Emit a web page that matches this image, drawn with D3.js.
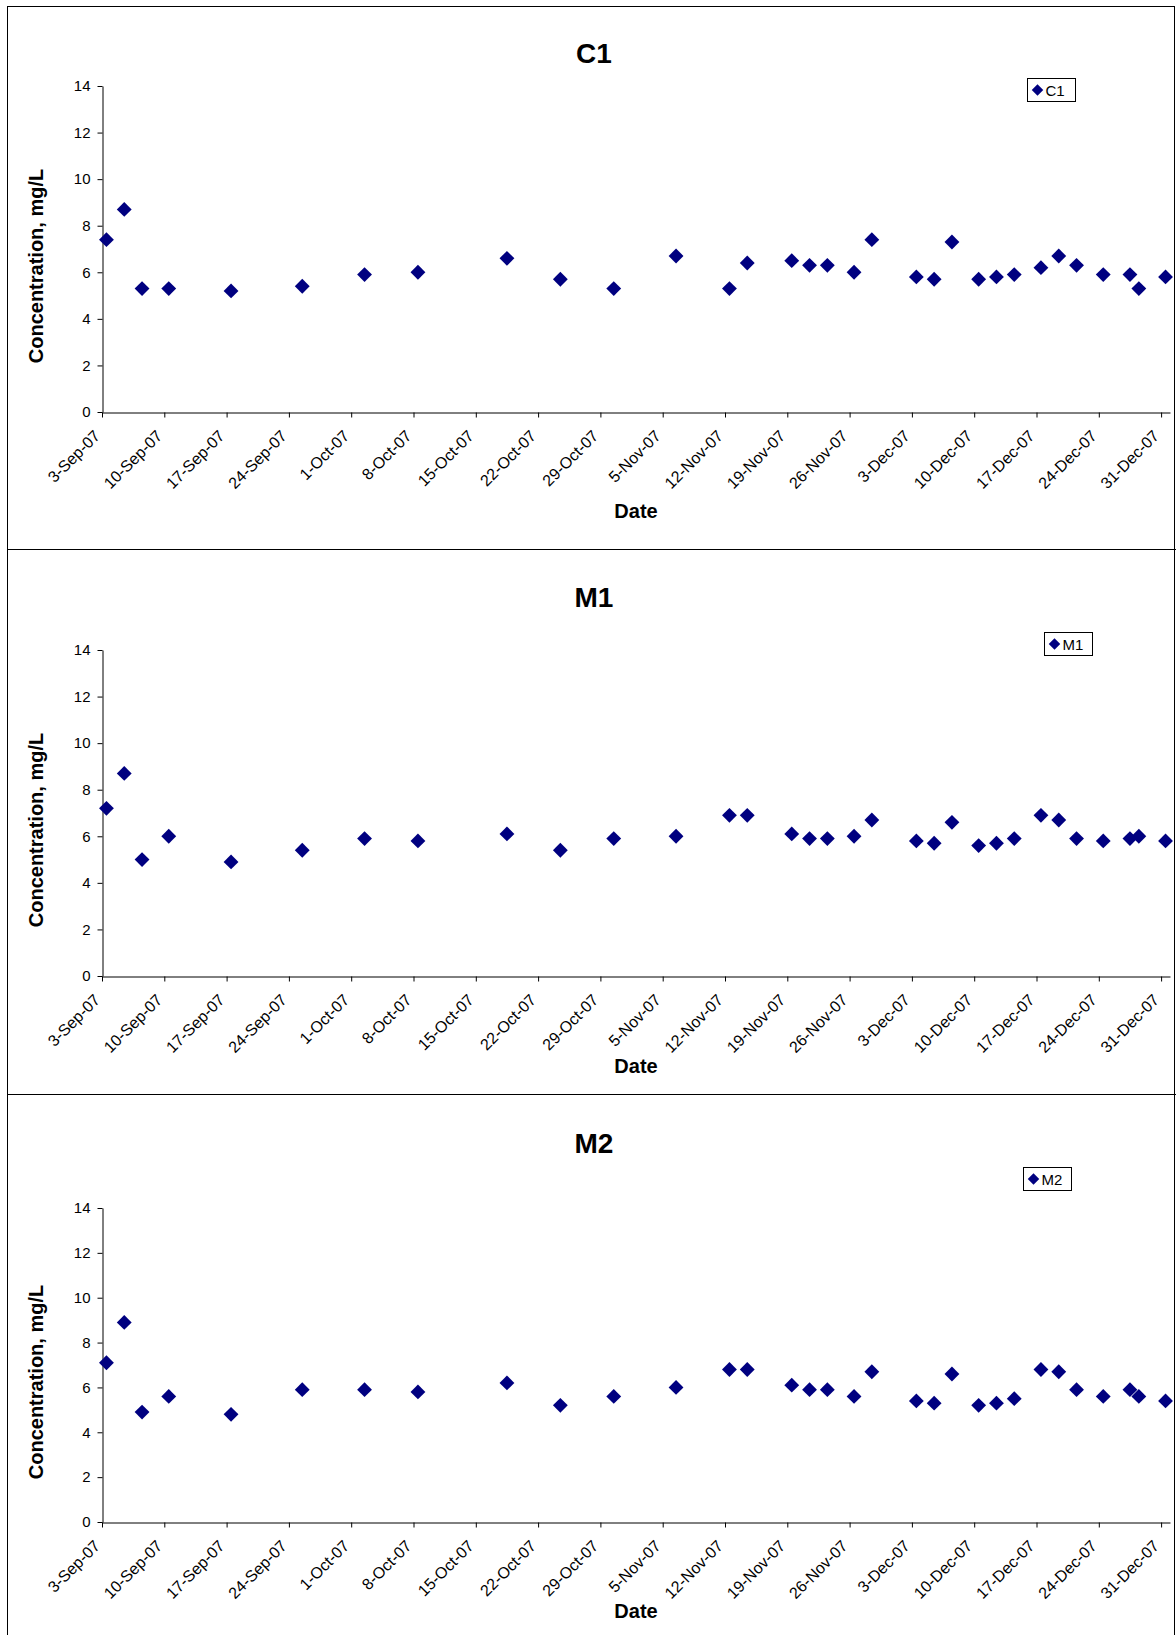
<!DOCTYPE html>
<html>
<head>
<meta charset="utf-8">
<script src="https://cdn.jsdelivr.net/npm/d3@7"></script>
<style>
  body { margin: 0; background: #fff; }
  svg { display: block; font-family: Arial, "Liberation Sans", sans-serif; }
</style>
</head>
<body>
<svg id="chart" width="1176" height="1635"></svg>
<script>
// Sampling dates, shared by the three stations (samples plotted at midday)
const sampleDates = [
  '3-Sep-07', '5-Sep-07', '7-Sep-07', '10-Sep-07', '17-Sep-07', '25-Sep-07',
  '2-Oct-07', '8-Oct-07', '18-Oct-07', '24-Oct-07', '30-Oct-07',
  '6-Nov-07', '12-Nov-07', '14-Nov-07', '19-Nov-07', '21-Nov-07', '23-Nov-07', '26-Nov-07', '28-Nov-07',
  '3-Dec-07', '5-Dec-07', '7-Dec-07', '10-Dec-07', '12-Dec-07', '14-Dec-07', '17-Dec-07',
  '19-Dec-07', '21-Dec-07', '24-Dec-07', '27-Dec-07', '28-Dec-07', '31-Dec-07'
];
const sampleTime = '12:00';

// Concentration, mg/L
const c1Values = [7.4, 8.7, 5.3, 5.3, 5.2, 5.4,
  5.9, 6.0, 6.6, 5.7, 5.3,
  6.7, 5.3, 6.4, 6.5, 6.3, 6.3, 6.0, 7.4,
  5.8, 5.7, 7.3, 5.7, 5.8, 5.9, 6.2, 6.7, 6.3, 5.9, 5.9, 5.3, 5.8];
const m1Values = [7.2, 8.7, 5.0, 6.0, 4.9, 5.4,
  5.9, 5.8, 6.1, 5.4, 5.9,
  6.0, 6.9, 6.9, 6.1, 5.9, 5.9, 6.0, 6.7,
  5.8, 5.7, 6.6, 5.6, 5.7, 5.9, 6.9, 6.7, 5.9, 5.8, 5.9, 6.0, 5.8];
const m2Values = [7.1, 8.9, 4.9, 5.6, 4.8, 5.9,
  5.9, 5.8, 6.2, 5.2, 5.6,
  6.0, 6.8, 6.8, 6.1, 5.9, 5.9, 5.6, 6.7,
  5.4, 5.3, 6.6, 5.2, 5.3, 5.5, 6.8, 6.7, 5.9, 5.6, 5.9, 5.6, 5.4];

const seriesNames = ['C1', 'M1', 'M2'];
const seriesValues = [c1Values, m1Values, m2Values];

const yTicks = [0, 2, 4, 6, 8, 10, 12, 14];
const xTickLabels = ['3-Sep-07', '10-Sep-07', '17-Sep-07', '24-Sep-07', '1-Oct-07', '8-Oct-07',
  '15-Oct-07', '22-Oct-07', '29-Oct-07', '5-Nov-07', '12-Nov-07', '19-Nov-07',
  '26-Nov-07', '3-Dec-07', '10-Dec-07', '17-Dec-07', '24-Dec-07', '31-Dec-07'];
const xDomain = ['3-Sep-07', '1-Jan-08'];

// Layout of the three stacked charts
const layout = [
  { top: 6,    titleY: 63,   plotTop: 86,   plotBottom: 412,  legendX: 1027, legendY: 78,   dateY: 518 },
  { top: 549,  titleY: 607,  plotTop: 650,  plotBottom: 976,  legendX: 1044, legendY: 632,  dateY: 1073 },
  { top: 1094, titleY: 1153, plotTop: 1208, plotBottom: 1522, legendX: 1023, legendY: 1167, dateY: 1618 }
];

const W = 1176, H = 1635;
const plotLeft = 102, plotRight = 1170;
const markColor = '#000080';

const parseDay = d3.timeParse('%d-%b-%y');
const parseTime = d3.timeParse('%d-%b-%y %H:%M');
const fmt = d3.timeFormat('%-d-%b-%y');

const svg = d3.select('#chart');

const x = d3.scaleTime()
  .domain(xDomain.map(parseDay))
  .range([plotLeft, plotRight]);
const tickDates = xTickLabels.map(parseDay);
const sampleX = sampleDates.map(d => parseTime(d + ' ' + sampleTime));

// Outer frame
svg.append('rect')
  .attr('x', 7.5).attr('y', 6.5)
  .attr('width', W - 9).attr('height', H)
  .attr('fill', 'none')
  .attr('stroke', '#000');

const diamond = d3.symbol().type(d3.symbolSquare).size(110);
const legendDiamond = d3.symbol().type(d3.symbolSquare).size(66);

layout.forEach((p, i) => {
  const g = svg.append('g');
  const name = seriesNames[i];
  const values = seriesValues[i];

  // separator between charts
  if (i > 0) {
    g.append('line')
      .attr('x1', 7).attr('x2', W)
      .attr('y1', p.top + 0.5).attr('y2', p.top + 0.5)
      .attr('stroke', '#000');
  }

  const y = d3.scaleLinear().domain([0, 14]).range([p.plotBottom, p.plotTop]);

  // title
  g.append('text')
    .attr('x', 594).attr('y', p.titleY)
    .attr('text-anchor', 'middle')
    .attr('font-size', 28).attr('font-weight', 'bold')
    .text(name);

  // y axis
  g.append('g')
    .attr('transform', `translate(${plotLeft + 0.5},0)`)
    .call(d3.axisLeft(y).tickValues(yTicks).tickSize(5).tickSizeOuter(0).tickPadding(7))
    .attr('font-family', null)
    .attr('font-size', 15)
    .call(a => a.selectAll('path, line').attr('stroke', '#000'));

  // x axis (labels drawn separately, rotated)
  g.append('g')
    .attr('transform', `translate(0,${p.plotBottom + 0.5})`)
    .call(d3.axisBottom(x).tickValues(tickDates).tickSize(5).tickSizeOuter(0).tickFormat(''))
    .call(a => a.selectAll('path, line').attr('stroke', '#000'));

  g.append('g').selectAll('text')
    .data(tickDates)
    .join('text')
    .attr('transform', d => `translate(${x(d) - 1},${p.plotBottom + 25}) rotate(-45)`)
    .attr('text-anchor', 'end')
    .attr('font-size', 16)
    .text(fmt);

  // axis titles
  g.append('text')
    .attr('transform', `translate(43,${(p.plotTop + p.plotBottom) / 2 + 17}) rotate(-90)`)
    .attr('text-anchor', 'middle')
    .attr('font-size', 20).attr('font-weight', 'bold')
    .text('Concentration, mg/L');

  g.append('text')
    .attr('x', (plotLeft + plotRight) / 2).attr('y', p.dateY)
    .attr('text-anchor', 'middle')
    .attr('font-size', 20).attr('font-weight', 'bold')
    .text('Date');

  // points
  g.append('g').selectAll('path')
    .data(values.map((v, j) => ({ date: sampleX[j], v })))
    .join('path')
    .attr('d', diamond)
    .attr('transform', d => `translate(${x(d.date)},${y(d.v)}) rotate(45)`)
    .attr('fill', markColor);

  // legend
  const lg = g.append('g').attr('transform', `translate(${p.legendX + 0.5},${p.legendY + 0.5})`);
  lg.append('rect')
    .attr('width', 48).attr('height', 23)
    .attr('fill', '#fff').attr('stroke', '#000');
  lg.append('path')
    .attr('d', legendDiamond)
    .attr('transform', 'translate(10,11.5) rotate(45)')
    .attr('fill', markColor);
  lg.append('text')
    .attr('x', 18).attr('y', 17)
    .attr('font-size', 15)
    .text(name);
});
</script>
</body>
</html>
